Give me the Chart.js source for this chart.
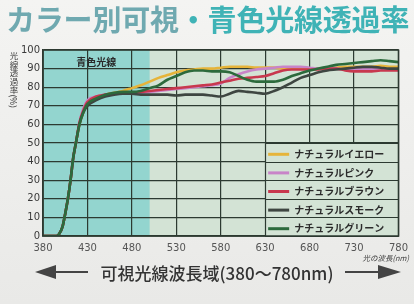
<!DOCTYPE html>
<html><head><meta charset="utf-8">
<script src="https://cdn.jsdelivr.net/npm/chart.js@4.4.1/dist/chart.umd.min.js"></script>
<style>
html,body{margin:0;padding:0;}
body{width:414px;height:304px;position:relative;overflow:hidden;background:linear-gradient(#f4f4f2,#e9e9e7);font-family:"Noto Sans CJK JP","Noto Sans",sans-serif;}
#c{position:absolute;left:0;top:0;}
#title{position:absolute;left:6px;top:-3px;font-size:29px;font-weight:700;white-space:nowrap;letter-spacing:-0.2px;}
#title .a{color:#6fa9b0}#title .b{color:#3fb3b6}
#ytitle{position:absolute;left:9px;top:52px;writing-mode:vertical-rl;font-size:8.5px;color:#3a3a3a;line-height:10px;}
#xunit{position:absolute;right:5px;top:252px;font-size:7.5px;color:#444;font-style:italic;}
#range{position:absolute;left:0;top:260px;width:434px;text-align:center;font-size:17px;color:#333;font-weight:500;white-space:nowrap;}
svg{position:absolute;left:0;top:0;}
</style></head>
<body>
<canvas id="c" width="414" height="304"></canvas>
<div id="title"><span class="a">カラー別可視</span><span class="b">・青色光線透過率</span></div>
<div id="ytitle">光線透過率(%)</div>
<div id="xunit">光の波長(nm)</div>
<svg width="414" height="304">
<line x1="52" y1="272" x2="88" y2="272" stroke="#444" stroke-width="2"/>
<polygon points="35,272 56,265 56,279" fill="#444"/>
<line x1="345" y1="272" x2="380" y2="272" stroke="#444" stroke-width="2"/>
<polygon points="401,272 378,265 378,279" fill="#444"/>
</svg>
<div id="range">可視光線波長域(380〜780nm)</div>
<script>
const wavelengths = [380,395,398,402,405,408,411,414,417,421,425,430,440,450,460,470,
  480,490,500,510,520,530,540,550,560,570,580,590,600,610,620,630,640,650,660,670,680,690,700,710,720,730,740,750,760,770,780];
const seriesNames = ["ナチュラルイエロー","ナチュラルピンク","ナチュラルブラウン","ナチュラルスモーク","ナチュラルグリーン"];
const yellow = [0,0,1,5,12,20,30,42,50,60,66,71,74,76,77,78,
  79.5,81,83,85,86.5,88,89,89.5,90,90,90.5,91,91,91,90.5,90.5,90.5,90,90,90,90,90,90,90.5,91,91,91,91,91.5,91,91];
const pink = [0,0,1,5,12,20,30,42,50,61,68,73,75,76,76.5,76.5,
  76.5,77,77.5,78,78.5,79,79.5,80,80.5,81,82,85,87,88.5,89.5,90,90.5,91,91,91,90.5,90,90,90,89.5,89.5,89.5,89.5,89.5,89.5,89.5];
const brown = [0,0,1,5,12,20,30,42,50,61,67,72,75,76,76.5,77,
  77,77.5,78,78.5,79,79.5,80,80.5,81,81.5,82.5,83.5,84.5,85,85.5,86,87.5,89,89.5,89.5,89.5,89.5,90,90,89,88.5,88.5,88.5,89,89,89];
const smoke = [0,0,1,5,12,20,30,42,50,60,66,70,73,75,76,76.5,
  76.5,76,76,76,76,75.5,76,76,76,75.5,75,76.5,78,77.5,77,76.5,78,80,82.5,85,86.5,88,89,89.5,90,90.5,91,91,90.5,90,90];
const green = [0,0,1,5,12,20,30,42,50,60,66,71,74,76,77,77.5,
  77.5,78,79.5,81,84,86,88,89,89,88.5,88.5,88,86,84,83,83,83,84,86,87.5,89,90,91,92,92.5,93,93.5,94,94.5,94,93.5];
const xTicks = [380,430,480,530,580,630,680,730,780];
const yTicks = [0,10,20,30,40,50,60,70,80,90,100];
const blueRange = [380,500];
const blueLabel = "青色光線";

const colors = ["#e6b43a","#c884c8","#c8384e","#3e4641","#2c6a3c"];
const values = [yellow,pink,brown,smoke,green];
const PLOT_BG = "#d3e3d5", BLUE_BG = "#93d5cf", GRID = "#2c3a31";

const datasets = values.map((v,i)=>({
  label: seriesNames[i],
  data: wavelengths.map((w,j)=>({x:w,y:v[j]})),
  borderColor: colors[i], borderWidth: 2.6, pointRadius: 0,
  cubicInterpolationMode: 'monotone', fill:false,
  order: values.length - i
}));

const bgPlugin = {
  id:'bg',
  beforeDraw(chart){
    const {ctx, chartArea:a, scales:{x}} = chart;
    ctx.save();
    ctx.fillStyle = PLOT_BG; ctx.fillRect(a.left,a.top,a.right-a.left,a.bottom-a.top);
    const x1 = x.getPixelForValue(blueRange[1]);
    ctx.fillStyle = BLUE_BG; ctx.fillRect(a.left,a.top,x1-a.left,a.bottom-a.top);
    ctx.restore();
  },
  beforeDatasetsDraw(chart){
    const {ctx, chartArea:a, scales:{x,y}} = chart;
    ctx.save();
    ctx.fillStyle="#2a2a2a"; ctx.font="bold 10px 'Noto Sans CJK JP'"; ctx.textAlign="center"; ctx.textBaseline="middle";
    ctx.fillText(blueLabel,(x.getPixelForValue(blueRange[0])+x.getPixelForValue(blueRange[1]))/2, a.top+12);
    const lx = x.getPixelForValue(630), rx = a.right;
    const ty = y.getPixelForValue(50), by = a.bottom;
    ctx.fillStyle = PLOT_BG; ctx.fillRect(lx,ty,rx-lx,by-ty);
    ctx.strokeStyle = GRID; ctx.lineWidth = 1.2;
    ctx.beginPath();
    for (let v=0; v<=50; v+=10){ const py=Math.round(y.getPixelForValue(v))+0.5; ctx.moveTo(lx,py); ctx.lineTo(rx,py); }
    ctx.moveTo(Math.round(lx)+0.5,ty); ctx.lineTo(Math.round(lx)+0.5,by);
    ctx.stroke();
    ctx.textAlign="left"; ctx.font="bold 10px 'Noto Sans CJK JP'";
    seriesNames.forEach((n,i)=>{
      const cy = (y.getPixelForValue(50-10*i)+y.getPixelForValue(40-10*i))/2 + 2;
      ctx.strokeStyle = colors[i]; ctx.lineWidth = 3;
      ctx.beginPath(); ctx.moveTo(lx+3,cy); ctx.lineTo(lx+24,cy); ctx.stroke();
      ctx.fillStyle="#2b2b2b"; ctx.fillText(n,lx+29,cy);
    });
    ctx.restore();
  },
  afterDatasetsDraw(chart){
    const {ctx, chartArea:a} = chart;
    ctx.save(); ctx.strokeStyle=GRID; ctx.lineWidth=1.5;
    ctx.strokeRect(a.left,a.top,a.right-a.left,a.bottom-a.top);
    ctx.restore();
  }
};

new Chart(document.getElementById('c'),{
  type:'line',
  data:{datasets},
  options:{
    responsive:false, animation:false, devicePixelRatio:1,
    layout:{padding:{left:0,top:50,right:12,bottom:48}},
    plugins:{legend:{display:false},tooltip:{enabled:false}},
    scales:{
      x:{type:'linear',min:380,max:780,
        afterFit(s){s.height=20;},
        afterBuildTicks(s){s.ticks = xTicks.map(v=>({value:v}));},
        ticks:{font:{family:'DejaVu Sans',size:10},color:'#555',padding:6,maxRotation:0,autoSkip:false},
        grid:{color:GRID,lineWidth:1.2,drawTicks:false},border:{color:GRID,width:1.5}},
      y:{min:0,max:100,
        afterFit(s){s.width=43;},
        afterBuildTicks(s){s.ticks = yTicks.map(v=>({value:v}));},
        ticks:{font:{family:'DejaVu Sans',size:10},color:'#3a3a3a',padding:3},
        grid:{color:GRID,lineWidth:1.2,drawTicks:false},border:{color:GRID,width:1.5}}
    }
  },
  plugins:[bgPlugin]
});
</script>
</body></html>
